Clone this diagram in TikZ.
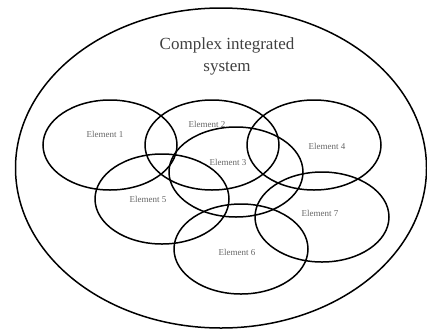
\documentclass[tikz,border=0pt]{standalone}
\usepackage{fontspec}
\setmainfont{Liberation Serif}
\usetikzlibrary{shapes.geometric,positioning}

\begin{document}
\begin{tikzpicture}[
    x=1pt,
    y=-1pt,
    elem/.style={
        ellipse,
        draw,
        line width=1.5pt,
        minimum width=134pt,
        minimum height=90pt,
        inner sep=0pt
    },
    lbl/.style={
        font=\fontsize{9}{10}\selectfont,
        text=black!60
    }
]
    \useasboundingbox (0,0) rectangle (427,330);

    % System
    \node [ellipse, draw, line width=1.5pt, minimum width=411pt, minimum height=320pt, inner sep=0pt] (sys) at (221,168) {};
    \node [font=\fontsize{17}{22}\selectfont, text=black!75, align=center] (title) at (227,56) {Complex integrated\\system};

    % Elements
    \node [elem] (e1) at (110,145) {};
    \node [elem] (e2) at (212,145) {};
    \node [elem] (e4) at (314,145) {};
    \node [elem] (e3) at (236,172) {};
    \node [elem] (e5) at (162,199) {};
    \node [elem] (e7) at (322,217) {};
    \node [elem] (e6) at (241,249) {};

    % Labels
    \node [lbl] (l1) at (105,134) {Element 1};
    \node [lbl] (l2) at (207,124) {Element 2};
    \node [lbl] (l3) at (228,162) {Element 3};
    \node [lbl] (l4) at (327,146) {Element 4};
    \node [lbl] (l5) at (148,199) {Element 5};
    \node [lbl] (l7) at (320,213) {Element 7};
    \node [lbl] (l6) at (237,252) {Element 6};

\end{tikzpicture}
\end{document}
